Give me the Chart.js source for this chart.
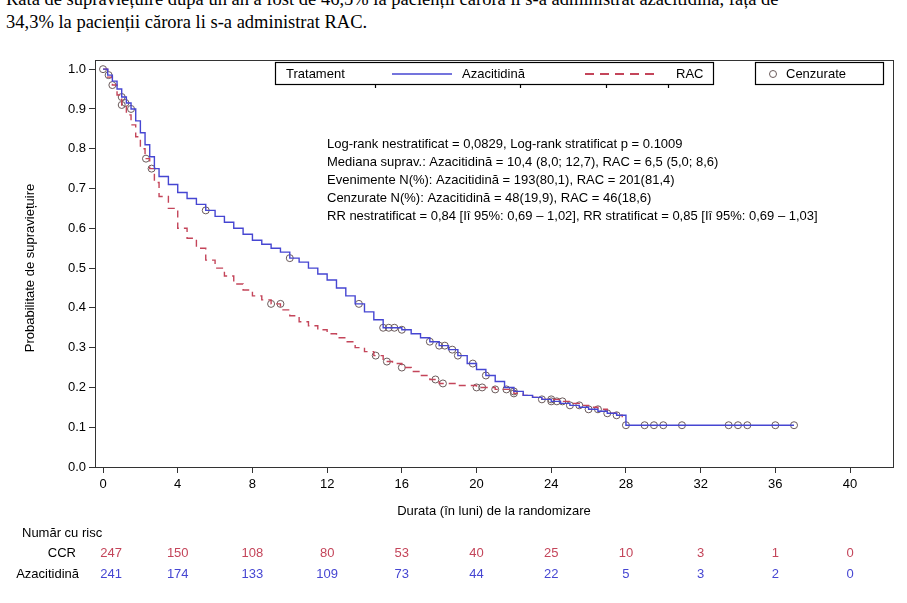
<!DOCTYPE html>
<html><head><meta charset="utf-8">
<script src="https://cdn.jsdelivr.net/npm/chart.js@4"></script>
<style>
body{margin:0;background:#fff;width:907px;height:603px;overflow:hidden;position:relative;font-family:'Liberation Sans',Arial,sans-serif}
#hdr{position:absolute;left:6px;top:-12px;font-family:'Liberation Serif','Times New Roman',serif;font-size:18.5px;line-height:23px;color:#000;white-space:nowrap}
#wrap{position:absolute;left:0;top:0;width:907px;height:603px}
</style></head><body>
<div id="hdr">Rata de supraviețuire după un an a fost de 46,5% la pacienții cărora li s-a administrat azacitidină, față de<br>34,3% la pacienții cărora li s-a administrat RAC.</div>
<div id="wrap"><canvas id="c" width="907" height="603"></canvas></div>
<script>
const xTicks=[0,4,8,12,16,20,24,28,32,36,40];
const yTicks=[0,0.1,0.2,0.3,0.4,0.5,0.6,0.7,0.8,0.9,1.0];
const azaT=[0,0.25,0.5,0.75,1,1.25,1.5,1.75,2,2.25,2.5,2.75,3,3.5,4,4.5,5,5.5,6,6.5,7,7.5,8,8.5,9,9.5,10,10.5,11,11.5,12,12.5,13,13.5,14,14.5,15,15.5,16,16.5,17,17.5,18,18.5,19,19.5,20,20.5,21,21.5,22,22.5,23,23.5,24,24.5,25,25.5,26,26.5,27,27.5,28,37];
const azaS=[1.0,0.985,0.97,0.95,0.93,0.915,0.90,0.87,0.84,0.81,0.78,0.75,0.73,0.71,0.69,0.675,0.66,0.645,0.63,0.615,0.60,0.585,0.57,0.56,0.55,0.54,0.525,0.515,0.50,0.485,0.47,0.45,0.43,0.41,0.39,0.37,0.35,0.35,0.345,0.335,0.325,0.315,0.305,0.295,0.28,0.26,0.245,0.23,0.215,0.20,0.19,0.18,0.175,0.17,0.165,0.16,0.155,0.15,0.145,0.14,0.135,0.13,0.105,0.105];
const racT=[0,0.25,0.5,0.75,1,1.25,1.5,1.75,2,2.25,2.5,2.75,3,3.5,4,4.5,5,5.5,6,6.5,7,7.5,8,8.5,9,9.5,10,10.5,11,11.5,12,12.5,13,13.5,14,14.5,15,15.5,16,16.5,17,17.5,18,18.5,19,19.5,20,20.5,21,21.5,22,22.5,23,23.5,24,24.5,25,25.5,26,26.5,27,27.5,27.8];
const racS=[1.0,0.98,0.96,0.935,0.91,0.885,0.86,0.83,0.80,0.775,0.75,0.715,0.68,0.65,0.60,0.575,0.55,0.52,0.50,0.48,0.46,0.445,0.43,0.42,0.41,0.395,0.38,0.365,0.355,0.345,0.335,0.325,0.315,0.30,0.29,0.28,0.265,0.26,0.25,0.24,0.23,0.22,0.21,0.21,0.205,0.205,0.20,0.20,0.195,0.195,0.185,0.18,0.175,0.17,0.17,0.165,0.16,0.155,0.15,0.145,0.135,0.13,0.125];
const azaCensT=[0.3,1,1.2,1.5,5.5,10,13.7,15,15.3,15.6,16,17.5,18,18.3,18.7,19,19.8,20.5,22,24,24.3,25,26,27,28,29,29.5,30,31,33.5,34,34.5,36,37];
const azaCensS=[0.985,0.93,0.915,0.90,0.645,0.525,0.41,0.35,0.35,0.35,0.345,0.315,0.305,0.305,0.295,0.28,0.26,0.23,0.19,0.165,0.165,0.155,0.145,0.135,0.105,0.105,0.105,0.105,0.105,0.105,0.105,0.105,0.105,0.105];
const racCensT=[0,0.5,1,2.3,2.6,9,9.5,14.6,15.2,16,17.8,18.2,20,20.3,21,21.6,22,23.5,24,24.6,25.5,26.5,27.5];
const racCensS=[1.0,0.96,0.91,0.775,0.75,0.41,0.41,0.28,0.265,0.25,0.22,0.21,0.20,0.20,0.195,0.195,0.185,0.17,0.17,0.165,0.155,0.145,0.13];
const riskCCR=[247,150,108,80,53,40,25,10,3,1,0];
const riskAza=[241,174,133,109,73,44,22,5,3,2,0];
const statLines=["Log-rank nestratificat = 0,0829, Log-rank stratificat p = 0.1009","Mediana suprav.: Azacitidină = 10,4 (8,0; 12,7), RAC = 6,5 (5,0; 8,6)","Evenimente N(%): Azacitidină = 193(80,1), RAC = 201(81,4)","Cenzurate N(%): Azacitidină = 48(19,9), RAC = 46(18,6)","RR nestratificat = 0,84 [Iî 95%: 0,69 – 1,02], RR stratificat = 0,85 [Iî 95%: 0,69 – 1,03]"];
const BLUE='#4646d2',RED='#c4455a',CENS='#6a5a5a';
const FONT="'Liberation Sans',Arial,sans-serif";
const pts=(t,s)=>t.map((x,i)=>({x,y:s[i]}));
const extras={id:'extras',afterDraw(ch){
 const c=ch.ctx,a=ch.chartArea,xs=ch.scales.x;
 c.save();
 c.strokeStyle='#333';c.lineWidth=1;c.strokeRect(a.left+0.5,a.top+0.5,a.right-a.left,a.bottom-a.top);
 c.strokeStyle='#000';c.lineWidth=1.2;
 c.strokeRect(275.5,62.5,438,22);c.strokeRect(755.5,62.5,128,22);
 [375,520,606,668].forEach(x=>{c.beginPath();c.moveTo(x+0.5,84);c.lineTo(x+0.5,88);c.stroke();});
 c.fillStyle='#000';c.font="13px "+FONT;c.textBaseline='middle';c.textAlign='left';
 c.fillText('Tratament',286,74);c.fillText('Azacitidină',462,74);c.fillText('RAC',676,74);c.fillText('Cenzurate',786,74);
 c.strokeStyle=BLUE;c.lineWidth=1.5;c.beginPath();c.moveTo(392,74);c.lineTo(452,74);c.stroke();
 c.strokeStyle=RED;c.setLineDash([9,6]);c.lineWidth=2;c.beginPath();c.moveTo(585,74);c.lineTo(660,74);c.stroke();c.setLineDash([]);
 c.strokeStyle=CENS;c.lineWidth=1;c.beginPath();c.arc(773,74,3.5,0,Math.PI*2);c.stroke();
 c.fillStyle='#000';c.font="13px "+FONT;
 statLines.forEach((s,i)=>c.fillText(s,327,144+i*18.2));
 c.textAlign='center';c.font="13px "+FONT;
 c.fillText('Durata (în luni) de la randomizare',494,511);
 c.save();c.translate(30,268);c.rotate(-Math.PI/2);c.fillText('Probabilitate de supraviețuire',0,0);c.restore();
 c.textAlign='left';c.fillText('Număr cu risc',22,533);
 c.textAlign='right';c.fillText('CCR',76,553);c.fillText('Azacitidină',79,574);
 c.textAlign='center';
 xTicks.forEach((t,i)=>{const x=xs.getPixelForValue(t)+(i===0?8:0);
  c.fillStyle=RED;c.fillText(String(riskCCR[i]),x,553);
  c.fillStyle=BLUE;c.fillText(String(riskAza[i]),x,574);});
 c.restore();}};
new Chart(document.getElementById('c'),{type:'line',
 data:{datasets:[
  {data:pts(azaT,azaS),borderColor:BLUE,borderWidth:1.4,stepped:true,pointRadius:0,fill:false},
  {data:pts(racT,racS),borderColor:RED,borderWidth:1.4,borderDash:[7,5],stepped:true,pointRadius:0,fill:false},
  {data:pts(azaCensT,azaCensS),showLine:false,pointStyle:'circle',pointRadius:3.5,pointBorderColor:CENS,pointBackgroundColor:'rgba(0,0,0,0)',pointBorderWidth:1},
  {data:pts(racCensT,racCensS),showLine:false,pointStyle:'circle',pointRadius:3.5,pointBorderColor:CENS,pointBackgroundColor:'rgba(0,0,0,0)',pointBorderWidth:1}]},
 options:{responsive:false,animation:false,events:[],
  layout:{padding:{left:0,top:60,right:14,bottom:0}},
  plugins:{legend:{display:false},tooltip:{enabled:false}},
  scales:{
   x:{type:'linear',min:-0.43,max:42.3,afterBuildTicks:s=>{s.ticks=xTicks.map(v=>({value:v}));},
     afterFit:s=>{s.height=136;},
     grid:{drawOnChartArea:false,tickLength:6,color:'#333'},border:{color:'#333'},
     ticks:{font:{size:13,family:FONT},color:'#000',padding:4,maxRotation:0}},
   y:{type:'linear',min:0,max:1.023,afterBuildTicks:s=>{s.ticks=yTicks.map(v=>({value:v}));},
     afterFit:s=>{s.width=95;},
     grid:{drawOnChartArea:false,tickLength:6,color:'#333'},border:{color:'#333'},
     ticks:{font:{size:13,family:FONT},color:'#000',padding:3,callback:v=>v.toFixed(1)}}}},
 plugins:[extras]});
</script></body></html>
